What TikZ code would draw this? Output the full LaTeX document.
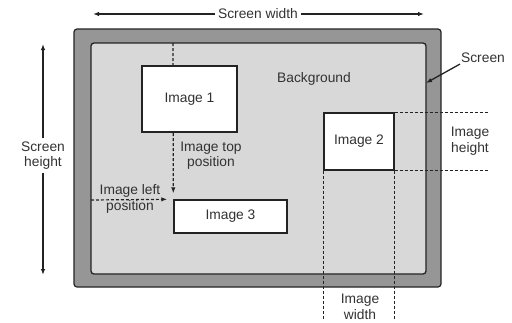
\documentclass[tikz,border=0pt]{standalone}
\usepackage{fontspec}
\setmainfont{Liberation Sans}
\usetikzlibrary{arrows.meta,positioning,backgrounds}
\definecolor{ScreenGray}{RGB}{150,150,150}
\definecolor{BackGray}{RGB}{216,216,216}
\definecolor{InkGray}{RGB}{50,50,50}
\definecolor{EdgeGray}{RGB}{35,35,35}

\begin{document}
\begin{tikzpicture}[x=1pt,y=-1pt,>={Latex[length=6pt,width=4.5pt]},
    font=\fontsize{13.8}{15.5}\selectfont,
    imgbox/.style={draw=EdgeGray,fill=white,line width=1.4pt,inner sep=0pt,text=InkGray},
    lbl/.style={text=InkGray,align=center,inner sep=1pt},
    dimline/.style={EdgeGray,line width=1.2pt,dash pattern=on 3pt off 2pt},
    sizeline/.style={EdgeGray,line width=1.3pt}]
  \useasboundingbox (0,0) rectangle (512,322);
  % images
  \node[imgbox,minimum width=95,minimum height=66] (img1) at (189.5,99) {Image 1};
  \node[imgbox,minimum width=70,minimum height=57] (img2) at (359,141.5) {Image 2};
  \node[imgbox,minimum width=113,minimum height=33] (img3) at (230.5,216.5) {Image 3};
  % labels
  \node[lbl] (bg) at (314,79) {Background};
  \node[lbl,inner sep=3pt] (scrw) at (258,14) {Screen width};
  \node[lbl,inner sep=3pt] (scrh) at (43,155.5) {Screen\\height};
  \node[lbl] (scr) at (483,58) {Screen};
  \node[lbl] (toppos) at (211,155.5) {Image top\\position};
  \node[lbl] (leftpos) at (130,199) {Image left\\position};
  \node[lbl] (imgh) at (470,141) {Image\\height};
  \node[lbl] (imgw) at (360,307) {Image\\width};
  % free ends
  \coordinate (wl) at (93,14);
  \coordinate (wr) at (424,14);
  \coordinate (ht) at (43,44);
  \coordinate (hb) at (43,275);
  \coordinate (scrtip) at (426,83);
  \coordinate (topstart) at (173,43);
  \coordinate (leftstart) at (91,200);
  \coordinate (hend) at (489,0);
  \coordinate (wend) at (0,320);
  % screen sizes
  \draw[sizeline,->] (scrw) -- (wl);
  \draw[sizeline,->] (scrw) -- (wr);
  \draw[sizeline,->] (scrh) -- (ht);
  \draw[sizeline,->] (scrh) -- (hb);
  \draw[sizeline,->] (scr.south west) -- (scrtip);
  \begin{scope}[on background layer]
    \draw[draw=EdgeGray,fill=ScreenGray,line width=1.2pt,rounded corners=3pt]
      (74,29) rectangle (441,287);
    \draw[draw=EdgeGray,fill=BackGray,line width=1.3pt,rounded corners=3pt]
      (91,43) rectangle (426,274);
    % position and size lines
    \draw[dimline,->] (topstart) -- ([yshift=6pt]img3.north west);
    \draw[dimline,->] (leftstart) -- ([xshift=-6pt]img3.north west);
    \draw[dimline] (img2.north east) -- (img2.north east -| hend);
    \draw[dimline] (img2.south east) -- (img2.south east -| hend);
    \draw[dimline] (img2.south west) -- (img2.south west |- wend);
    \draw[dimline] (img2.south east) -- (img2.south east |- wend);
  \end{scope}
\end{tikzpicture}
\end{document}
